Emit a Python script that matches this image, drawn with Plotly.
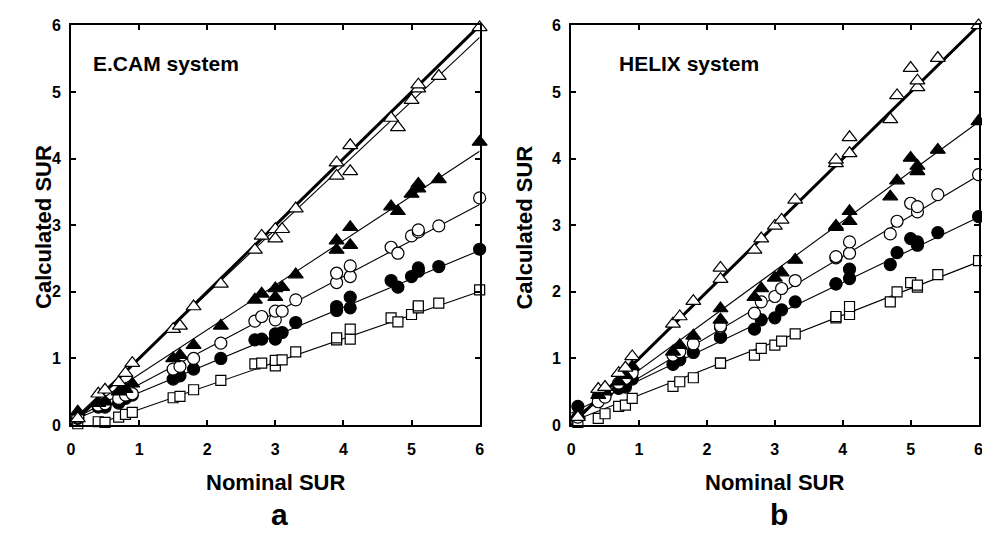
import plotly.graph_objects as go

# ---------------- data ----------------
# Panel a : E.CAM system
xa = [0.1, 0.4, 0.5, 0.7, 0.8, 0.9, 1.5, 1.6, 1.8, 2.2, 2.7, 2.8, 3.0, 3.0, 3.1, 3.3,
      3.9, 3.9, 4.1, 4.1, 4.7, 4.8, 5.0, 5.1, 5.1, 5.4, 6.0]
a_open_tri = [0.10, 0.47, 0.53, 0.64, 0.78, 0.93, 1.44, 1.49, 1.78, 2.12, 2.63, 2.84, 2.80, 2.94, 2.94, 3.25,
              3.74, 3.94, 3.81, 4.20, 4.61, 4.47, 4.88, 5.05, 5.11, 5.24, 5.97]
a_fill_tri = [0.20, 0.33, 0.35, 0.50, 0.54, 0.62, 1.00, 1.05, 1.20, 1.49, 1.88, 1.97, 1.92, 2.05, 2.07, 2.26,
              2.63, 2.77, 2.70, 2.97, 3.28, 3.21, 3.47, 3.55, 3.62, 3.69, 4.25]
a_open_cir = [0.12, 0.30, 0.32, 0.40, 0.45, 0.47, 0.84, 0.88, 1.00, 1.23, 1.56, 1.63, 1.58, 1.71, 1.71, 1.88,
              2.14, 2.28, 2.23, 2.39, 2.67, 2.58, 2.84, 2.90, 2.93, 2.99, 3.41]
a_fill_cir = [0.10, 0.27, 0.27, 0.33, 0.40, 0.45, 0.69, 0.74, 0.84, 1.00, 1.28, 1.29, 1.29, 1.37, 1.39, 1.54,
              1.72, 1.78, 1.76, 1.92, 2.17, 2.07, 2.23, 2.31, 2.36, 2.38, 2.64]
a_open_sq = [0.02, 0.05, 0.04, 0.12, 0.16, 0.19, 0.41, 0.43, 0.53, 0.67, 0.92, 0.93, 0.89, 0.97, 0.98, 1.10,
             1.28, 1.31, 1.29, 1.44, 1.61, 1.55, 1.66, 1.76, 1.79, 1.83, 2.03]
# fitted lines (intercept, slope): open tri, filled tri, open circ, filled circ, square
a_fit_int = [0.05, 0.09, 0.07, 0.06, -0.12]
a_fit_slope = [0.962, 0.67, 0.54, 0.427, 0.354]

# Panel b : HELIX system
xb = [0.1, 0.4, 0.5, 0.7, 0.8, 0.9, 1.5, 1.6, 1.8, 2.2, 2.2, 2.7, 2.8, 3.0, 3.1, 3.3,
      3.9, 3.9, 4.1, 4.1, 4.7, 4.8, 5.0, 5.1, 5.1, 5.4, 6.0]
b_open_tri = [0.12, 0.54, 0.57, 0.78, 0.86, 1.03, 1.52, 1.63, 1.86, 2.19, 2.36, 2.63, 2.80, 2.99, 3.08, 3.38,
              3.93, 3.98, 4.08, 4.32, 4.59, 4.95, 5.36, 5.07, 5.17, 5.51, 6.00]
b_fill_tri = [0.15, 0.45, 0.50, 0.65, 0.75, 0.88, 1.10, 1.20, 1.34, 1.58, 1.75, 1.92, 2.05, 2.21, 2.29, 2.48,
              2.97, 2.99, 3.06, 3.21, 3.43, 3.67, 4.01, 3.81, 3.89, 4.13, 4.56]
b_open_cir = [0.12, 0.35, 0.42, 0.63, 0.70, 0.78, 1.05, 1.10, 1.22, 1.47, 1.49, 1.68, 1.85, 1.93, 2.05, 2.17,
              2.51, 2.53, 2.58, 2.75, 2.87, 3.06, 3.33, 3.20, 3.28, 3.46, 3.76]
b_fill_cir = [0.28, 0.43, 0.45, 0.55, 0.57, 0.69, 0.91, 0.98, 1.09, 1.32, 1.32, 1.44, 1.58, 1.61, 1.73, 1.85,
              2.12, 2.12, 2.20, 2.34, 2.41, 2.59, 2.80, 2.70, 2.75, 2.89, 3.13]
b_open_sq = [0.04, 0.10, 0.17, 0.28, 0.30, 0.40, 0.58, 0.65, 0.71, 0.93, 0.93, 1.05, 1.15, 1.20, 1.26, 1.37,
             1.61, 1.63, 1.66, 1.78, 1.85, 2.00, 2.14, 2.07, 2.10, 2.26, 2.47]
b_fit_int = [-0.01, 0.08, 0.10, 0.18, 0.05]
b_fit_slope = [1.0, 0.745, 0.608, 0.49, 0.40]

identity_x = [0, 6]
identity_y = [0, 6]
tick_vals = [0, 1, 2, 3, 4, 5, 6]
tick_text = ["0", "1", "2", "3", "4", "5", "6"]

panel_titles = ["E.CAM system", "HELIX system"]
panel_letters = ["a", "b"]
x_title = "Nominal SUR"
y_title = "Calculated SUR"

# ---------------- layout geometry ----------------
# figure slightly wider than the window so that the right frame of panel b falls just outside it
W, H = 990, 537
px = lambda v: v / W
py = lambda v: (H - v) / H

FONT = "Liberation Sans, Arial, sans-serif"

fig = go.Figure()

styles = [
    dict(symbol="triangle-up", color="white", size=13),
    dict(symbol="triangle-up", color="black", size=13),
    dict(symbol="circle", color="white", size=12),
    dict(symbol="circle", color="black", size=12),
    dict(symbol="square", color="white", size=10),
]

panels = [
    ("x", "y", xa, [a_open_tri, a_fill_tri, a_open_cir, a_fill_cir, a_open_sq], a_fit_int, a_fit_slope),
    ("x2", "y2", xb, [b_open_tri, b_fill_tri, b_open_cir, b_fill_cir, b_open_sq], b_fit_int, b_fit_slope),
]

for xr, yr, xs, series, fint, fslope in panels:
    fig.add_trace(go.Scatter(x=identity_x, y=identity_y, mode="lines", xaxis=xr, yaxis=yr,
                             line=dict(color="black", width=3), showlegend=False, hoverinfo="skip"))
    for a0, b0 in zip(fint, fslope):
        lx = [0, 6]
        ly = [a0 + b0 * v for v in lx]
        fig.add_trace(go.Scatter(x=lx, y=ly, mode="lines", xaxis=xr, yaxis=yr,
                                 line=dict(color="black", width=1.1), showlegend=False, hoverinfo="skip"))
    for ys, st in reversed(list(zip(series, styles))):
        fig.add_trace(go.Scatter(x=xs, y=ys, mode="markers", xaxis=xr, yaxis=yr, cliponaxis=False,
                                 marker=dict(symbol=st["symbol"], size=st["size"], color=st["color"],
                                             line=dict(color="black", width=1.2)),
                                 showlegend=False))

ydom = [py(430.7), py(18)]
axis_common = dict(range=[0, 6], tickvals=tick_vals, ticktext=tick_text, ticks="inside", ticklen=5,
                   tickwidth=1.5, tickcolor="black", showline=True, linecolor="black", linewidth=2,
                   mirror="ticks", showgrid=False, zeroline=False,
                   tickfont=dict(family=FONT, size=16, color="black", weight="bold"))

fig.update_layout(
    width=W, height=H,
    margin=dict(l=0, r=0, t=0, b=0),
    paper_bgcolor="white", plot_bgcolor="white",
    xaxis=dict(domain=[px(67.6), px(480)], anchor="y", ticklabelstandoff=9, **axis_common),
    yaxis=dict(domain=ydom, anchor="x", ticklabelstandoff=5, **axis_common),
    xaxis2=dict(domain=[px(572.3), px(983.5)], anchor="y2", ticklabelstandoff=9, **axis_common),
    yaxis2=dict(domain=ydom, anchor="x2", ticklabelstandoff=5, **axis_common),
)

ann = []
title_left = [88, 619]
centers = [(67.6 + 480) / 2, (572.3 + 983.3) / 2]
ytitle_x = [40, 525]
for i in range(2):
    ann.append(dict(text=panel_titles[i], x=px(title_left[i]), y=py(57.5), xref="paper", yref="paper",
                    xanchor="left", yanchor="middle", showarrow=False,
                    font=dict(family=FONT, size=21, color="black", weight="bold")))
    ann.append(dict(text=x_title, x=px(centers[i]), y=py(489.5), xref="paper", yref="paper",
                    xanchor="center", yanchor="middle", showarrow=False,
                    font=dict(family=FONT, size=22, color="black", weight="bold")))
    ann.append(dict(text=y_title, x=px(ytitle_x[i]), y=py(226.5), xref="paper", yref="paper",
                    xanchor="center", yanchor="middle", showarrow=False, textangle=-90,
                    font=dict(family=FONT, size=22, color="black", weight="bold")))
    ann.append(dict(text=panel_letters[i], x=px(centers[i] + 4), y=py(523), xref="paper", yref="paper",
                    xanchor="center", yanchor="middle", showarrow=False,
                    font=dict(family=FONT, size=30, color="black", weight="bold")))
fig.update_layout(annotations=ann)

fig.write_html("out.html",
               post_script="document.documentElement.style.overflow='hidden';document.body.style.overflow='hidden';")
